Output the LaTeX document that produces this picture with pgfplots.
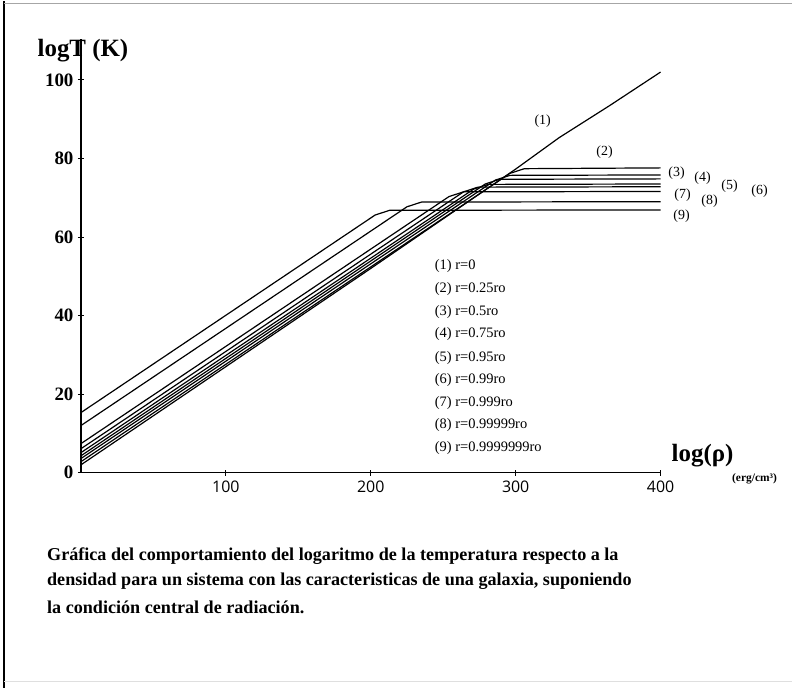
\documentclass[border=0pt]{standalone}
\usepackage{fontspec}
\setmainfont{Liberation Serif}
\newfontfamily\xsans{Open Sans}
\usepackage{pgfplots}
\pgfplotsset{compat=1.18}
\begin{document}
\begin{tikzpicture}[x=1bp,y=1bp]
\path (0,0) rectangle (792,687);
\draw[black, line width=2bp] (4,0) -- (4,687);
\draw[gray!70, line width=1bp] (4,684) -- (792,684);
\draw[gray!25, line width=1bp] (4,6) -- (792,6);
\begin{axis}[
  at={(81bp,215bp)}, anchor=south west,
  scale only axis, width=580bp, height=433.9bp,
  xmin=0, xmax=400, ymin=0, ymax=110.4,
  axis lines=left, axis line style={-, line width=1.2bp},
  xtick={100,200,300,400}, ytick={0,20,40,60,80,100},
  tick align=center, major tick length=6bp,
  tick style={line width=0.9bp, black},
  /pgf/number format/assume math mode=true,
  yticklabel style={font=\fontsize{19}{19}\selectfont\bfseries, xshift=-1bp},
  xticklabel style={font=\fontsize{16}{16}\selectfont\xsans, yshift=-2bp},
  clip=false,
]
\addplot[black, line width=1.2bp] coordinates {(0,2.0) (100,27) (200,52) (300,77.3) (330,85.3) (365,93.5) (400,102)};
\addplot[black, line width=1.2bp] coordinates {(0,2.8) (296,76.2) (306,77.4) (400,77.6)};
\addplot[black, line width=1.2bp] coordinates {(0,3.6) (286,74.5) (296,75.7) (400,75.8)};
\addplot[black, line width=1.2bp] coordinates {(0,4.3) (279,73.5) (289,74.7) (400,74.8)};
\addplot[black, line width=1.2bp] coordinates {(0,5.1) (271,72.2) (281,73.4) (400,73.5)};
\addplot[black, line width=1.2bp] coordinates {(0,6.1) (264,71.5) (274,72.7) (400,72.8)};
\addplot[black, line width=1.2bp] coordinates {(0,7.4) (254,70.3) (264,71.5) (400,71.6)};
\addplot[black, line width=1.2bp] coordinates {(0,12.0) (225,67.7) (235,68.9) (400,69.0)};
\addplot[black, line width=1.2bp] coordinates {(0,15.3) (203,65.6) (213,66.8) (400,66.9)};
\end{axis}
% axis titles
\node[font=\fontsize{25}{25}\selectfont\bfseries] at (83,637) {logT (K)};
\node[font=\fontsize{25}{25}\selectfont\bfseries] at (703,232) {log(ρ)};
\node[font=\fontsize{11.5}{11.5}\selectfont\bfseries] at (755,209) {(erg/cm³)};
% curve labels
\begin{scope}[every node/.style={font=\fontsize{14}{14}\selectfont, inner sep=0pt}]
\node at (543,567) {(1)};
\node at (605,536) {(2)};
\node at (677,515) {(3)};
\node at (703,510) {(4)};
\node at (730,502) {(5)};
\node at (760,497) {(6)};
\node at (683,493) {(7)};
\node at (710,487) {(8)};
\node at (682,472) {(9)};
\end{scope}
% legend
\begin{scope}[every node/.style={font=\fontsize{14.5}{14.5}\selectfont, anchor=west, inner sep=0pt}]
\node at (435,422) {(1) r=0};
\node at (435,399) {(2) r=0.25ro};
\node at (435,376) {(3) r=0.5ro};
\node at (435,354) {(4) r=0.75ro};
\node at (435,330) {(5) r=0.95ro};
\node at (435,308) {(6) r=0.99ro};
\node at (435,285) {(7) r=0.999ro};
\node at (435,263) {(8) r=0.99999ro};
\node at (435,240) {(9) r=0.9999999ro};
\end{scope}
% caption
\begin{scope}[every node/.style={font=\fontsize{18.2}{18.2}\selectfont\bfseries, anchor=west, inner sep=0pt}]
\node at (47,132) {Gráfica del comportamiento del logaritmo de la temperatura respecto a la};
\node at (47,106) {densidad para un sistema con las caracteristicas de una galaxia, suponiendo};
\node at (47,80) {la condición central de radiación.};
\end{scope}
\end{tikzpicture}
\end{document}
